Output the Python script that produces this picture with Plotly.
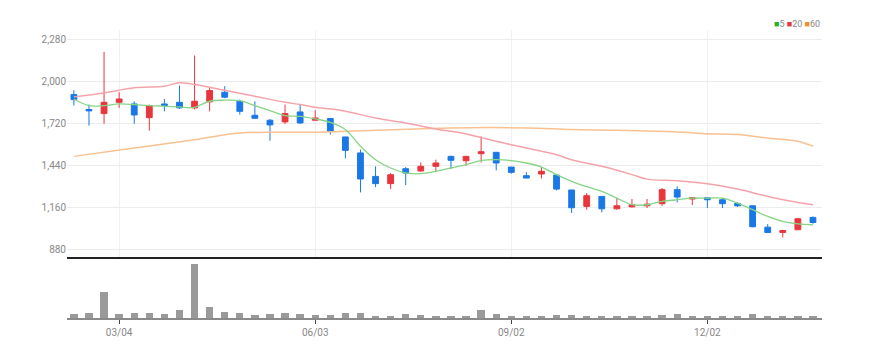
import pandas as pd
import plotly.graph_objects as go

# ---- data (weekly candles) ----
start_date = "2019-02-11"
n_weeks = 50
opens  = [1911, 1812, 1785, 1860, 1849, 1758, 1849, 1860, 1823, 1863,
          1927, 1867, 1774, 1741, 1730, 1796, 1741, 1752, 1630, 1524,
          1368, 1320, 1419, 1404, 1435, 1501, 1472, 1519, 1528, 1430,
          1373, 1384, 1377, 1278, 1169, 1235, 1153, 1166, 1173, 1187,
          1280, 1218, 1226, 1213, 1189, 1173, 1031, 996, 1014, 1096]
highs  = [1940, 1845, 2195, 1927, 1867, 1845, 1882, 1971, 2171, 1962,
          1967, 1878, 1867, 1749, 1845, 1845, 1807, 1752, 1630, 1546,
          1435, 1390, 1430, 1461, 1479, 1506, 1506, 1634, 1528, 1430,
          1397, 1430, 1377, 1278, 1258, 1235, 1224, 1218, 1218, 1291,
          1302, 1226, 1226, 1224, 1195, 1173, 1051, 1014, 1091, 1102]
lows   = [1838, 1705, 1718, 1823, 1718, 1672, 1800, 1816, 1812, 1800,
          1887, 1778, 1749, 1605, 1716, 1716, 1741, 1646, 1488, 1262,
          1297, 1284, 1311, 1399, 1402, 1417, 1439, 1461, 1408, 1386,
          1357, 1355, 1275, 1125, 1147, 1129, 1147, 1162, 1158, 1173,
          1195, 1178, 1158, 1158, 1165, 1030, 991, 963, 1012, 1054]
closes = [1878, 1803, 1860, 1882, 1776, 1838, 1838, 1823, 1867, 1938,
          1894, 1800, 1754, 1710, 1785, 1723, 1756, 1668, 1541, 1351,
          1320, 1379, 1390, 1435, 1457, 1475, 1501, 1532, 1457, 1395,
          1357, 1402, 1284, 1160, 1240, 1153, 1173, 1180, 1184, 1280,
          1231, 1226, 1213, 1187, 1173, 1034, 996, 1009, 1087, 1062]
volumes = [13, 15, 78, 13, 15, 15, 13, 23, 160, 31,
           18, 15, 10, 13, 15, 13, 8, 10, 15, 15,
           7, 7, 13, 10, 7, 6, 6, 23, 13, 7,
           7, 4, 9, 9, 6, 6, 6, 3, 6, 9,
           13, 7, 6, 6, 6, 13, 7, 7, 3, 3]

ma5 = [1882, 1838, 1838, 1849, 1845, 1838, 1834, 1829, 1827, 1867,
       1874, 1871, 1838, 1805, 1772, 1767, 1750, 1727, 1679, 1568,
       1479, 1424, 1391, 1386, 1402, 1424, 1446, 1473, 1479, 1473,
       1457, 1430, 1380, 1335, 1300, 1269, 1224, 1180, 1180, 1202,
       1213, 1224, 1224, 1224, 1191, 1147, 1102, 1069, 1053, 1047]
ma20_idx = [0, 2, 4, 6, 7, 8, 10, 12, 14, 15, 16, 17, 18, 20, 22, 24, 26, 28,
            30, 32, 33, 35, 37, 38, 40, 42, 44, 46, 48, 49]
ma20 = [1896, 1922, 1956, 1967, 1990, 1978, 1940, 1900, 1860, 1845, 1827,
        1816, 1801, 1756, 1723, 1683, 1650, 1601, 1557, 1512, 1479, 1435,
        1380, 1350, 1340, 1320, 1284, 1235, 1195, 1180]
ma60_idx = [0, 4, 8, 11, 14, 16, 20, 25, 30, 33, 36, 40, 42, 44, 46, 48, 49]
ma60 = [1501, 1557, 1612, 1656, 1661, 1661, 1674, 1690, 1690, 1679, 1674,
        1663, 1652, 1646, 1623, 1601, 1568]

y_ticks = [880, 1160, 1440, 1720, 2000, 2280]
x_tick_dates = ["2019-03-04", "2019-06-03", "2019-09-02", "2019-12-02"]
x_tick_labels = ["03/04", "06/03", "09/02", "12/02"]
legend_labels = ["5", "20", "60"]

# ---- figure ----
dates = pd.date_range(start_date, periods=n_weeks, freq="7D")
day = pd.Timedelta(days=1)
x_range = [dates[0] - 3.2 * day, dates[-1] + 4.2 * day]

RED = "#e8363c"
BLUE = "#1a78e6"
C5, C20, C60 = "#86d486", "#f5a3aa", "#f9c190"
FONT = "Liberation Sans Narrow, Roboto, sans-serif"

fig = go.Figure()
fig.add_trace(go.Scatter(x=dates[ma60_idx], y=ma60, mode="lines",
                         line=dict(color=C60, width=1.5, shape="spline"),
                         hoverinfo="skip", xaxis="x", yaxis="y"))
fig.add_trace(go.Scatter(x=dates[ma20_idx], y=ma20, mode="lines",
                         line=dict(color=C20, width=1.5, shape="spline"),
                         hoverinfo="skip", xaxis="x", yaxis="y"))
fig.add_trace(go.Scatter(x=dates, y=ma5, mode="lines",
                         line=dict(color=C5, width=1.3, shape="spline"),
                         hoverinfo="skip", xaxis="x", yaxis="y"))
fig.add_trace(go.Candlestick(
    x=dates, open=opens, high=highs, low=lows, close=closes,
    increasing=dict(line=dict(color=RED, width=1), fillcolor=RED),
    decreasing=dict(line=dict(color=BLUE, width=1), fillcolor=BLUE),
    whiskerwidth=0, xaxis="x", yaxis="y"))
fig.add_trace(go.Bar(x=dates, y=volumes, marker=dict(color="#9a9a9a", line=dict(width=0)),
                     width=3.4 * 86400000, xaxis="x2", yaxis="y2"))

legend_html = (f'<span style="color:#22b422">■</span>{legend_labels[0]} '
               f'<span style="color:{RED}">■</span>{legend_labels[1]} '
               f'<span style="color:#f0902a">■</span>{legend_labels[2]}')

fig.update_layout(
    width=869, height=357,
    margin=dict(l=59, r=55, t=22, b=47),
    paper_bgcolor="white", plot_bgcolor="white",
    showlegend=False,
    font=dict(family=FONT, size=10, color="#888"),
    bargap=0,
    boxgap=0.45,
    xaxis=dict(domain=[0, 1], anchor="y", range=x_range, type="date",
               tickvals=x_tick_dates, showticklabels=False, ticks="",
               showgrid=True, gridcolor="#f0f0f0", gridwidth=1,
               showline=True, linecolor="#222", linewidth=2,
               rangeslider=dict(visible=False), zeroline=False),
    yaxis=dict(domain=[0.2118, 1], anchor="x", range=[833, 2340],
               tickvals=y_ticks, ticktext=[f"{v:,}" for v in y_ticks],
               showgrid=True, gridcolor="#ececec", gridwidth=1,
               zeroline=False, showline=False, ticks="",
               tickfont=dict(family=FONT, size=10, color="#888")),
    xaxis2=dict(domain=[0, 1], anchor="y2", matches="x", type="date",
                tickvals=x_tick_dates, ticktext=x_tick_labels,
                ticks="outside", ticklen=4, tickcolor="#444", tickwidth=1,
                showgrid=False, showline=True, linecolor="#8a8a8a", linewidth=2,
                zeroline=False, tickfont=dict(family=FONT, size=10, color="#888")),
    yaxis2=dict(domain=[0, 0.194], anchor="x2", range=[0, 166],
                showticklabels=False, showgrid=False, zeroline=False,
                showline=False, ticks=""),
    annotations=[dict(x=1.0, y=1.021, xref="paper", yref="paper",
                      xanchor="right", yanchor="middle", showarrow=False,
                      text=legend_html, font=dict(family=FONT, size=9, color="#888"))],
)

fig.write_html("out.html")
